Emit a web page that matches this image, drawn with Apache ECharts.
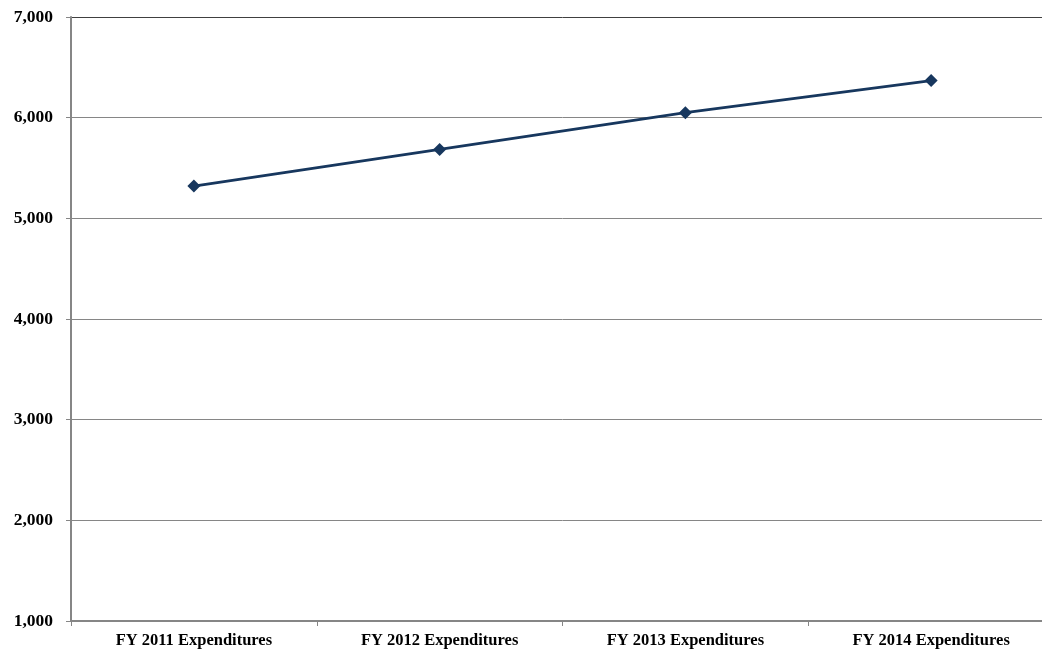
<!DOCTYPE html>
<html><head><meta charset="utf-8">
<script src="https://cdn.jsdelivr.net/npm/echarts@6/dist/echarts.min.js"></script>
<style>html,body{margin:0;padding:0;background:#fff;overflow:hidden;width:1042px;height:649px}#c{width:1055px;height:649px}</style>
</head><body><div id="c"></div>
<script>
const categories = ['FY 2011 Expenditures','FY 2012 Expenditures','FY 2013 Expenditures','FY 2014 Expenditures'];
const expenditures = [5320, 5685, 6050, 6368];
const yTicks = [1000, 7000, 1000];

const chart = echarts.init(document.getElementById('c'));
const font = 'Liberation Serif';
chart.setOption({
  animation: false,
  grid: {left: 71, top: 17, right: 1, bottom: 28, containLabel: false},
  xAxis: {
    type: 'category', data: categories, boundaryGap: true,
    axisLine: {lineStyle: {color: '#868686', width: 2}},
    axisTick: {show: true, length: 5, lineStyle: {color: '#868686'}},
    axisLabel: {color: '#000', fontFamily: font, fontWeight: 'bold', fontSize: 16.5, margin: 11}
  },
  yAxis: {
    type: 'value', min: yTicks[0], max: yTicks[1], interval: yTicks[2],
    axisLine: {show: true, lineStyle: {color: '#868686', width: 2}},
    axisTick: {show: true, length: 5, lineStyle: {color: '#868686'}},
    axisLabel: {color: '#000', fontFamily: font, fontWeight: 'bold', fontSize: 17.5, margin: 18,
      formatter: v => v.toLocaleString('en-US')},
    splitLine: {show: true, lineStyle: {color: ['#868686','#868686','#868686','#868686','#868686','#868686','#404040'], width: 1}}
  },
  series: [{
    type: 'line', data: expenditures,
    lineStyle: {color: '#17375E', width: 3},
    itemStyle: {color: '#17375E'},
    symbol: 'diamond', symbolSize: 13
  }]
});
</script></body></html>
